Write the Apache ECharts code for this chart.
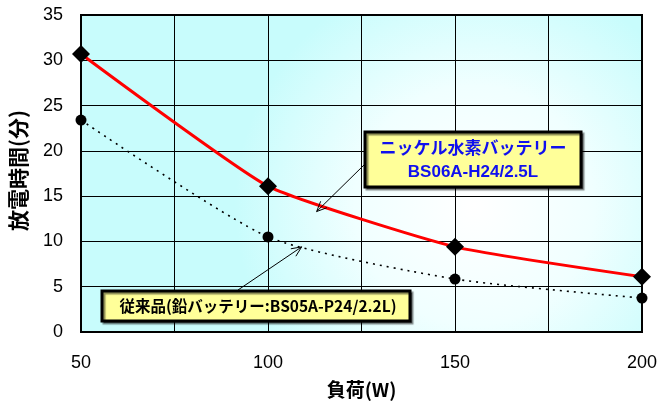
<!DOCTYPE html>
<html>
<head>
<meta charset="utf-8">
<script src="https://cdn.jsdelivr.net/npm/echarts@6/dist/echarts.min.js"></script>
<style>
  html, body { margin: 0; padding: 0; background: #fff; }
  #chart { width: 663px; height: 404px; }
</style>
</head>
<body>
<div id="chart"></div>
<script>
// 負荷(W)
const loads = [50, 100, 150, 200]
// ニッケル水素バッテリー BS06A-H24/2.5L
const nimh = [30.7, 16.1, 9.4, 6.1]
// 従来品 鉛バッテリー BS05A-P24/2.2L
const lead = [23.4, 10.5, 5.85, 3.75]

const nimhLabel = ['ニッケル水素バッテリー', 'BS06A-H24/2.5L']
const leadLabel = '従来品(鉛バッテリー:BS05A-P24/2.2L)'

const font = '"Liberation Sans", Arial, "Noto Sans CJK JP", sans-serif'
const jpFont = '"Noto Sans CJK JP", "Liberation Sans", sans-serif'

let chart = echarts.init(document.getElementById('chart'))

chart.setOption({
  animation: false,
  grid: {
    left: 81, right: 21, top: 15, bottom: 72,
    outerBoundsMode: 'none',
    show: true,
    borderColor: '#000', borderWidth: 2,
    backgroundColor: {
      type: 'radial', x: 0.7, y: 0.6, r: 0.75,
      colorStops: [
        { offset: 0, color: '#ffffff' },
        { offset: 0.5, color: '#f0ffff' },
        { offset: 1, color: '#c8fcfc' }
      ]
    }
  },
  xAxis: {
    type: 'value', min: 50, max: 200, interval: 25,
    name: '負荷(W)', nameLocation: 'middle', nameGap: 48,
    nameTextStyle: { fontFamily: jpFont, fontWeight: 'bold', fontSize: 19, color: '#000' },
    axisLine: { lineStyle: { color: '#000', width: 2 } },
    axisTick: { show: false },
    axisLabel: {
      margin: 22, fontSize: 18, color: '#000', fontFamily: font,
      formatter: v => (v % 50 === 0 ? String(v) : '')
    },
    splitLine: { show: true, lineStyle: { color: '#000', width: 1 } }
  },
  yAxis: {
    type: 'value', min: 0, max: 35, interval: 5,
    name: '放電時間(分)', nameLocation: 'middle', nameGap: 52, nameRotate: 90,
    nameTextStyle: { fontFamily: jpFont, fontWeight: 'bold', fontSize: 21, color: '#000', padding: [0, 0, 0, 6] },
    axisLine: { show: true, lineStyle: { color: '#000', width: 2 } },
    axisTick: { show: false },
    axisLabel: { margin: 18, fontSize: 18, color: '#000', fontFamily: font },
    splitLine: { show: true, lineStyle: { color: '#000', width: 1 } }
  },
  series: [
    {
      name: 'lead', type: 'line', smooth: 0.2,
      data: loads.map((x, i) => [x, lead[i]]),
      symbol: 'circle', symbolSize: 11,
      itemStyle: { color: '#000' },
      lineStyle: { color: '#000', width: 1.6, type: [2, 5] },
      z: 3
    },
    {
      name: 'nimh', type: 'line', smooth: 0.15,
      data: loads.map((x, i) => [x, nimh[i]]),
      symbol: 'diamond', symbolSize: [18, 18],
      itemStyle: { color: '#000' },
      lineStyle: { color: '#ff0000', width: 3 },
      z: 4
    }
  ]
})

// 注記の吹き出し
function arrow(from, to) {
  let ang = Math.atan2(to[1] - from[1], to[0] - from[0])
  let len = 11, spread = 0.42
  let a1 = [to[0] - len * Math.cos(ang - spread), to[1] - len * Math.sin(ang - spread)]
  let a2 = [to[0] - len * Math.cos(ang + spread), to[1] - len * Math.sin(ang + spread)]
  return [
    { type: 'polyline', shape: { points: [from, to] }, style: { stroke: '#000', lineWidth: 1, fill: null }, z: 20 },
    { type: 'polyline', shape: { points: [a1, to, a2] }, style: { stroke: '#000', lineWidth: 1, fill: null }, z: 20 }
  ]
}

let p1 = chart.convertToPixel({ gridIndex: 0 }, [113, 13.3])
let p2 = chart.convertToPixel({ gridIndex: 0 }, [109, 9.4])

const boxStyle = { fill: '#ffff99', stroke: '#000', lineWidth: 3, shadowColor: 'rgba(0,0,0,0.45)', shadowOffsetX: 2, shadowOffsetY: 2, shadowBlur: 1 }

chart.setOption({
  graphic: [
    ...arrow([364, 165], p1),
    ...arrow([238, 290], p2),
    { type: 'rect', shape: { x: 365, y: 132, width: 216, height: 55 }, style: boxStyle, z: 21 },
    { type: 'text', x: 473, y: 148, z: 22,
      style: { text: nimhLabel[0], fill: '#1010ee', font: 'bold 17px ' + jpFont, align: 'center', verticalAlign: 'middle' } },
    { type: 'text', x: 473, y: 172, z: 22,
      style: { text: nimhLabel[1], fill: '#1010ee', font: 'bold 17px ' + font, align: 'center', verticalAlign: 'middle' } },
    { type: 'rect', shape: { x: 102, y: 291, width: 308, height: 30 }, style: boxStyle, z: 21 },
    { type: 'text', x: 258, y: 306, z: 22,
      style: { text: leadLabel, fill: '#000', font: 'bold 15.5px ' + jpFont, align: 'center', verticalAlign: 'middle' } }
  ]
})
</script>
</body>
</html>
